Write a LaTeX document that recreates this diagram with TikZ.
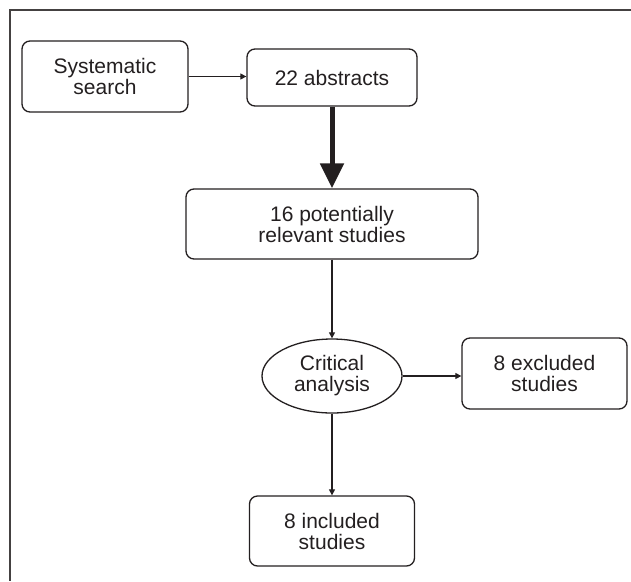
\documentclass[tikz,border=0pt]{standalone}
\usepackage{fontspec}
\setmainfont{Liberation Sans}
\usetikzlibrary{shapes,shapes.geometric,arrows.meta,calc}
\definecolor{inkgray}{HTML}{231F20}
\tikzset{
  x=1pt, y=-1pt,
  flownode/.style = {align=center, inner sep=0pt, text centered, draw=inkgray, line width=1.3pt,
                     text=inkgray, font=\fontsize{21}{21}\selectfont},
  flow_box/.style = {flownode, rectangle, rounded corners=8pt},
  flow_ell/.style = {flownode, ellipse},
  thin_arr/.style = {draw=inkgray, line width=1.2pt, -{Triangle[length=6pt,width=6pt]}},
  thick_arr/.style = {draw=inkgray, line width=5pt, -{Triangle[length=25pt,width=23pt]}}
}
\begin{document}
\begin{tikzpicture}
	\useasboundingbox (0,0) rectangle (631,581);
	% frame, cut off at the right and at the bottom
	\draw[draw=inkgray!85, line width=2pt] (631,10) -- (10,10) -- (10,581);

	\node [flow_box, minimum width=166pt, minimum height=71pt] (search) at (105,76.5) {Systematic\\search};
	\node [flow_box, minimum width=170pt, minimum height=57pt] (abstracts) at (332,77.5) {22 abstracts};
	\node [flow_box, minimum width=292pt, minimum height=70pt] (potential) at (332,224) {16 potentially\\relevant studies};
	\node [flow_ell, minimum width=140pt, minimum height=74pt] (analysis) at (332,376) {Critical\\analysis};
	\node [flow_box, minimum width=165pt, minimum height=71pt] (excluded) at (544.5,373.5) {8 excluded\\studies};
	\node [flow_box, minimum width=165pt, minimum height=70pt] (included) at (332,531) {8 included\\studies};

	\draw [thin_arr] (search.east) -- (search.east -| abstracts.west);
	\draw [thick_arr] (abstracts.south) -- (potential.north);
	\draw [thin_arr] (potential.south) -- (analysis.north);
	\draw [thin_arr] (analysis.east) -- (analysis.east -| excluded.west);
	\draw [thin_arr] (analysis.south) -- (included.north);
\end{tikzpicture}
\end{document}
